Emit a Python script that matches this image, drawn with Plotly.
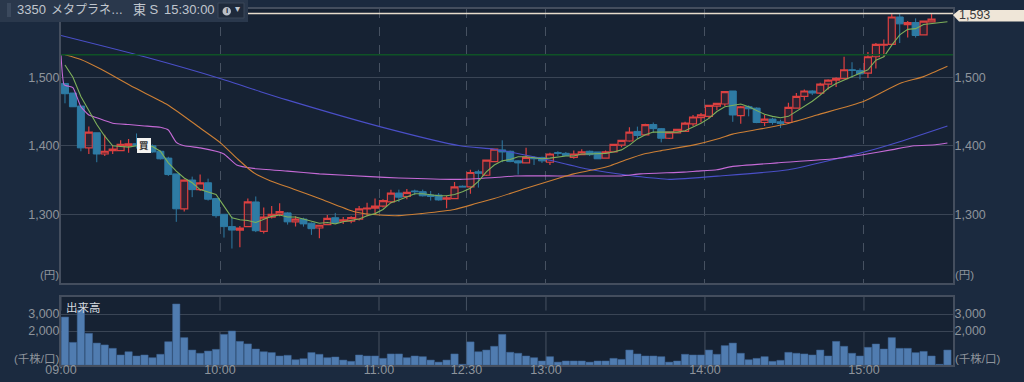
import plotly.graph_objects as go

# --- data ---
opens = [1491,1477,1458,1397,1419,1388,1393,1393,1400,1403,1402,1400,1392,1382,1359,1308,1350,1336,1346,1323,
         1300,1282,1277,1282,1318,1275,1296,1300,1302,1289,1293,1287,1280,1285,1295,1290,1290,1293,1308,1309,
         1312,1318,1331,1326,1334,1333,1328,1328,1322,1323,1341,1340,1362,1357,1377,1394,1392,1378,1375,1383,
         1383,1376,1390,1389,1383,1387,1392,1391,1382,1391,1401,1407,1421,1416,1431,1425,1411,1419,1421,1432,
         1441,1443,1458,1461,1480,1444,1457,1455,1434,1439,1435,1434,1455,1472,1480,1477,1490,1496,1498,1511,
         1510,1506,1530,1547,1548,1588,1577,1580,1562,1581]
highs = [1491,1477,1458,1428,1419,1416,1401,1408,1410,1418,1403,1402,1393,1384,1359,1351,1355,1358,1352,1324,
         1300,1297,1283,1323,1326,1310,1312,1316,1303,1297,1295,1288,1284,1299,1302,1296,1297,1312,1317,1323,
         1322,1336,1336,1337,1336,1336,1334,1331,1327,1347,1342,1365,1365,1380,1396,1408,1393,1379,1397,1385,
         1384,1390,1392,1391,1393,1395,1393,1391,1393,1403,1409,1427,1428,1432,1434,1426,1420,1425,1435,1445,
         1448,1460,1463,1480,1480,1458,1459,1456,1445,1441,1438,1463,1477,1482,1481,1492,1497,1500,1530,1522,
         1513,1537,1550,1555,1593,1593,1582,1586,1583,1593]
lows = [1462,1457,1392,1388,1376,1385,1388,1392,1390,1396,1396,1390,1380,1356,1289,1304,1325,1334,1320,1295,
        1266,1250,1252,1282,1274,1272,1294,1297,1285,1282,1282,1270,1265,1285,1286,1286,1287,1291,1297,1301,
        1310,1316,1318,1322,1328,1326,1320,1320,1309,1322,1340,1330,1339,1356,1376,1376,1376,1358,1374,1372,
        1375,1372,1385,1385,1381,1387,1385,1381,1381,1391,1398,1406,1410,1415,1419,1405,1410,1418,1421,1429,
        1434,1440,1452,1458,1435,1432,1443,1433,1429,1431,1426,1433,1454,1466,1474,1475,1482,1486,1497,1499,
        1497,1499,1513,1530,1548,1550,1558,1558,1561,1581]
closes = [1476,1457,1397,1420,1388,1392,1395,1402,1403,1400,1397,1391,1381,1358,1308,1350,1336,1346,1322,1298,
          1282,1277,1280,1318,1276,1296,1300,1304,1289,1293,1286,1279,1284,1294,1288,1292,1295,1308,1309,1312,
          1320,1331,1325,1332,1333,1327,1326,1321,1324,1340,1340,1361,1360,1379,1395,1391,1377,1375,1383,1381,
          1378,1388,1389,1386,1388,1391,1387,1381,1391,1402,1408,1420,1415,1431,1425,1411,1420,1424,1433,1442,
          1445,1459,1462,1479,1445,1457,1454,1434,1439,1434,1432.5,1456,1472,1480,1477,1490,1496,1498.5,1511,1510,
          1505,1530,1548,1548,1588,1578,1580,1561,1582,1585]
volumes = [2820,1330,3235,1860,1290,1180,980,590,780,530,590,430,630,1370,3590,1610,880,690,820,920,
           1800,2000,1390,1240,940,780,730,530,570,310,370,730,630,430,470,290,216,590,530,530,
           390,650,650,430,530,490,290,170,290,650,40,1360,780,880,1100,1800,750,690,530,430,
           235,490,170,235,235,235,170,235,235,390,330,880,650,530,530,490,170,235,630,590,
           590,880,630,1140,1290,690,310,390,490,215,275,745,690,650,590,880,530,1390,1100,690,
           530,1040,1235,940,1610,980,980,725,800,530,40,880]
ma_green = [1518,1500,1472,1452,1431,1414,1400,1399,1398,1400,1401,1399,1392,1375,1363,1353,1346,1336,1332,1329,
            1312,1295,1292,1291,1288,1293,1297,1299,1296,1296,1293,1289,1287,1288,1286,1289,1291,1293,1298,1301,
            1307,1317,1321,1326,1330,1330,1328,1327,1327,1329,1333,1338,1348,1362,1372,1378,1380,1384,1384,1383,
            1381,1382,1384,1385,1385,1388,1388,1388,1389,1391,1394,1401,1410,1416,1420,1420,1420.5,1420,1422,1427,
            1433,1440,1450,1457,1459,1461,1457,1452,1446,1443,1441,1443,1450,1457,1465,1474,1484,1491,1496,1502,
            1506,1511,1525,1530,1547,1562,1570,1571,1577,1578,1579,1581]
orange_idx = [0,2,4.5,8.7,12.9,17,19.6,21.6,23.7,25.8,28.7,32,36.3,38.4,42,44.8,49,51.8,54,58,62.2,64,66.5,68.6,70.7,72.8,75,79,82.4,84,90.4,94.6,100.5,105,108,111]
orange_val = [1533,1526,1512,1485,1460,1426,1404,1382,1361,1349,1337,1323,1304,1300,1298,1301,1307,1316,1323,1338,1353,1359,1365,1371,1380,1388,1393,1401,1411,1417,1431,1445,1465,1491,1501,1516]
blue_idx = [-0.5,10,19.6,24.6,27.9,39.6,49.7,54,57.7,60.6,65.7,71.5,74,76,82.4,91,96.7,100.9,105,111]
blue_val = [1561,1530,1498,1479,1467,1428,1400,1395,1387,1380,1366,1356,1353,1351,1356,1365,1380,1392,1406,1429]
purple_idx = [-0.5,-0.1,1,2,3,4,6,8,10,12,13,14,15,17,19,20,21.6,23.7,28,32,38.4,42,49.7,54.5,56.6,62,70,72.4,77.8,79.5,82,84,89.6,96.7,100.9,103.9,106.8,109.5,111]
purple_val = [1533,1489,1485,1457,1445,1441,1433,1431,1429,1427,1423,1405,1400,1397,1392,1388,1372,1367,1363,1359,1355,1353,1351,1354,1356,1356,1356,1359,1361.5,1363,1365,1370,1375,1381,1388,1394,1400,1401.5,1404]
last_price = 1593
ref_price = 1533
price_ticks = [1300, 1400, 1500]
vol_ticks = [2000, 3000]
time_idx = [0, 20, 40, 51, 61, 81, 101]
time_labels = ["09:00", "10:00", "11:00", "12:30", "13:00", "14:00", "15:00"]

W, H = 1024, 382
PAGE = "#1b2a3f"
PLOT = "#162233"
GRID = "#3a4555"
FRAME = "#444e5e"
TXT = "#8e949c"
SANS = "Liberation Sans, Noto Sans CJK JP"
RED = "#dc4040"
BLU = "#2e7ba4"

def px(x): return x / W
def py(y): return 1 - y / H

fig = go.Figure()
xs = list(range(len(opens)))
fig.add_trace(go.Candlestick(x=xs, open=opens, high=highs, low=lows, close=closes,
    increasing=dict(line=dict(color=RED, width=1.2), fillcolor="rgba(120,40,50,0.25)"),
    decreasing=dict(line=dict(color=BLU, width=1), fillcolor=BLU),
    whiskerwidth=0, xaxis="x", yaxis="y", showlegend=False, hoverinfo="skip"))
fig.add_trace(go.Scatter(x=[-0.5, 111.7], y=[ref_price]*2, mode="lines", line=dict(color="#0f5226", width=1.5), xaxis="x", yaxis="y3"))
fig.add_trace(go.Scatter(x=[-0.5, 111.7], y=[last_price]*2, mode="lines", line=dict(color="#e6dccb", width=1.5), xaxis="x", yaxis="y"))
fig.add_trace(go.Scatter(x=blue_idx, y=blue_val, mode="lines", line=dict(color="#4a4fc8", width=1.1, shape="spline", smoothing=0.6), xaxis="x", yaxis="y"))
fig.add_trace(go.Scatter(x=purple_idx, y=purple_val, mode="lines", line=dict(color="#c56ad6", width=1.1, shape="spline", smoothing=0.4), xaxis="x", yaxis="y"))
fig.add_trace(go.Scatter(x=orange_idx, y=orange_val, mode="lines", line=dict(color="#cc7f35", width=1.1, shape="spline", smoothing=0.6), xaxis="x", yaxis="y"))
fig.add_trace(go.Scatter(x=list(range(len(ma_green))), y=ma_green, mode="lines", line=dict(color="#7fb05a", width=1.1), xaxis="x", yaxis="y"))
fig.add_trace(go.Bar(x=list(range(len(volumes))), y=volumes, marker=dict(color="#507cb0", line=dict(color="#3f6594", width=0.5)), xaxis="x2", yaxis="y2"))
fig.add_trace(go.Scatter(x=[0, 111], y=[0, 0], mode="lines", line=dict(width=0), xaxis="x2", yaxis="y4"))

font = dict(family=SANS, size=12.5, color=TXT)
grid_x = [i - 0.5 for i in time_idx]
xr = [-0.5, 111.7]
dom_x = [px(61), px(953)]
common_y = dict(showgrid=True, gridcolor=GRID, gridwidth=1, zeroline=False, showline=True, linecolor=FRAME, linewidth=2,
                ticks="", tickfont=font, automargin=False, ticklabelstandoff=-3)

layout = dict(
    template="none",
    width=W, height=H, margin=dict(l=0, r=0, t=0, b=0), autosize=False,
    paper_bgcolor=PAGE, plot_bgcolor=PLOT, showlegend=False, bargap=0.08, boxmode="group", boxgap=0.12, boxgroupgap=0,
    hovermode=False,
    xaxis=dict(domain=dom_x, range=xr, anchor="y", tickmode="array", tickvals=grid_x, ticktext=[""]*7, automargin=False,
               showgrid=True, gridcolor="#465161", griddash="dash", gridwidth=1, showline=True, linecolor=FRAME,
               linewidth=2, mirror=True, rangeslider=dict(visible=False), zeroline=False, ticks=""),
    yaxis=dict(domain=[py(283), py(9)], range=[1199.7, 1599.7], tickmode="array", tickvals=price_ticks,
               tickformat=",d", side="left", **common_y),
    yaxis3=dict(domain=[py(283), py(9)], range=[1199.7, 1599.7], overlaying="y", anchor="x", side="right", tickmode="array",
                tickvals=price_ticks, tickformat=",d", showgrid=False, zeroline=False, showline=True, linecolor=FRAME,
                linewidth=2, tickfont=font, ticks="", automargin=False, ticklabelstandoff=-3),
    xaxis2=dict(domain=dom_x, range=xr, anchor="y2", tickmode="array", tickvals=grid_x, ticktext=time_labels, automargin=False,
                showgrid=False, showline=True, linecolor=FRAME, linewidth=2, mirror=True, zeroline=False,
                tickfont=font, ticks="", tickangle=0, ticklabelstandoff=-8),
    yaxis2=dict(domain=[py(365), py(297)], range=[0, 4000], tickmode="array", tickvals=vol_ticks, tickformat=",d",
                side="left", **common_y),
    yaxis4=dict(domain=[py(365), py(297)], range=[0, 4000], overlaying="y2", anchor="x2", side="right", tickmode="array",
                tickvals=vol_ticks, tickformat=",d", showgrid=False, zeroline=False, showline=True, linecolor=FRAME,
                linewidth=2, tickfont=font, ticks="", automargin=False, ticklabelstandoff=-3),
)
fig.update_layout(**layout)

shapes = []
# volume-panel vertical grid segments
for g in grid_x:
    for a, b in ((2000, 0), (4000, 3200)):
        shapes.append(dict(type="line", xref="x2", yref="y2", x0=g, x1=g, y0=a, y1=b, line=dict(color="#465161", width=1), layer="below"))
# header bar
shapes.append(dict(type="rect", xref="paper", yref="paper", x0=0, x1=px(248), y0=py(22), y1=1, fillcolor="#2a384c", line=dict(width=0)))
shapes.append(dict(type="rect", xref="paper", yref="paper", x0=px(7), x1=px(11), y0=py(17), y1=py(3), fillcolor="#3b495d", line=dict(width=0)))
shapes.append(dict(type="rect", xref="paper", yref="paper", x0=px(218), x1=px(244), y0=py(18), y1=py(3), fillcolor="#1f2a3b", line=dict(color="#3a4659", width=1)))
shapes.append(dict(type="circle", xref="paper", yref="paper", x0=px(222.5), x1=px(231), y0=py(15.5), y1=py(7), fillcolor="#b9bfc7", line=dict(width=0)))
# price tag
tag = "M {} {} L {} {} L {} {} L {} {} L {} {} Z".format(px(953), py(15), px(959), py(10), px(1024), py(10), px(1024), py(21.5), px(959), py(21.5))
shapes.append(dict(type="path", xref="paper", yref="paper", path=tag, fillcolor="#efe6d8", line=dict(width=0)))
fig.update_layout(shapes=shapes)

def note(x, y, text, size=12.5, color=TXT, anchor="center", **kw):
    return dict(xref="paper", yref="paper", x=px(x), y=py(y), text=text, showarrow=False, xanchor=anchor, yanchor="middle",
                font=dict(family=SANS, size=size, color=color), **kw)

annotations = [
    note(15, 10, "3350", size=13, color="#c0c6ce", anchor="left"),
    note(49, 10, "メタプラネ…", size=12, color="#c0c6ce", anchor="left"),
    note(131, 10, "東 S", size=13, color="#c0c6ce", anchor="left"),
    note(162, 10, "15:30:00", size=13, color="#c0c6ce", anchor="left"),
    note(226.7, 11, "<b>i</b>", size=8, color="#1f2a3b"),
    note(237, 9, "▾", size=10, color="#c0c6ce"),
    note(61, 275, "(円)", size=11.5, anchor="right"),
    note(953, 275, "(円)", size=11.5, anchor="left"),
    note(62, 358, "(千株/口)", size=11.5, anchor="right"),
    note(953, 358, "(千株/口)", size=11.5, anchor="left"),
    note(64, 308, "出来高", size=11.5, color="#d4d8de", anchor="left"),
    note(974, 14.5, "1,593", size=12.5, color="#3a3a3a"),
    dict(xref="x", yref="y", x=10, y=1400, text="<b>買</b>", showarrow=False, bgcolor="#f4f4f2", bordercolor="#f4f4f2",
         borderpad=1, font=dict(family=SANS, size=9.5, color="#303030")),
]
fig.update_layout(annotations=annotations)

fig.write_html("out.html", config={"displayModeBar": False}, post_script="document.body.style.margin='0';document.body.style.overflow='hidden';document.body.style.background='%s';" % PAGE)
